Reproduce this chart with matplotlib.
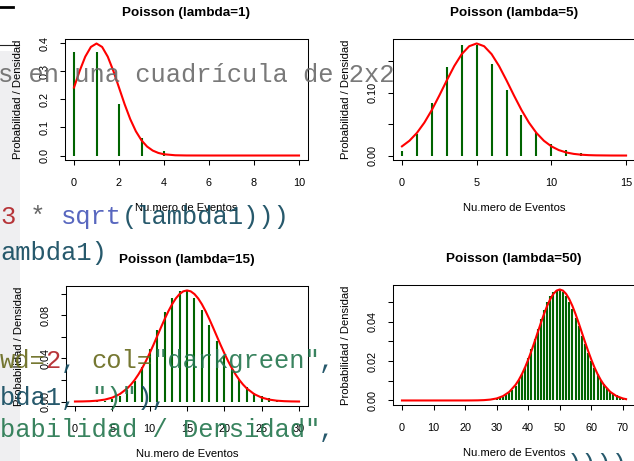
import matplotlib
matplotlib.use("Agg")
import matplotlib.pyplot as plt
from matplotlib.patches import Rectangle
from matplotlib.lines import Line2D

W, H = 634, 461

# lambda = 1
k1 = list(range(0, 11))
p1 = [0.36788, 0.36788, 0.18394, 0.06131, 0.01533, 0.00307, 0.00051, 0.00007, 0.00001, 0.0, 0.0]
x1 = [0, 0.25, 0.5, 0.75, 1, 1.25, 1.5, 1.75, 2, 2.25, 2.5, 2.75, 3, 3.25, 3.5, 3.75, 4, 4.5, 5, 6, 10]
d1 = [0.24197, 0.30114, 0.35207, 0.38667, 0.39894, 0.38667, 0.35207, 0.30114, 0.24197, 0.18265,
      0.12952, 0.08628, 0.05399, 0.03174, 0.01753, 0.00909, 0.00443, 0.00087, 0.00013, 0.0, 0.0]

# lambda = 5
k2 = list(range(0, 16))
p2 = [0.00674, 0.03369, 0.08422, 0.14037, 0.17547, 0.17547, 0.14622, 0.10444, 0.06528, 0.03627,
      0.01813, 0.00824, 0.00343, 0.00132, 0.00047, 0.00016]
x2 = [0, 0.5, 1, 1.5, 2, 2.5, 3, 3.5, 4, 4.5, 5, 5.5, 6, 6.5, 7, 7.5, 8, 8.5, 9, 9.5, 10,
      10.5, 11, 11.5, 12, 12.5, 13, 14, 15]
d2 = [0.01464, 0.02355, 0.03602, 0.05241, 0.07254, 0.09550, 0.11959, 0.14247, 0.16143, 0.17401,
      0.17841, 0.17401, 0.16143, 0.14247, 0.11959, 0.09550, 0.07254, 0.05241, 0.03602, 0.02355,
      0.01464, 0.00866, 0.00487, 0.00261, 0.00133, 0.00064, 0.00030, 0.00005, 0.0]

# lambda = 15
k3 = list(range(0, 31))
p3 = [0.0, 0.000005, 0.000034, 0.000172, 0.000645, 0.001936, 0.004839, 0.010370, 0.019444, 0.032407,
      0.048611, 0.066287, 0.082859, 0.095607, 0.102436, 0.102436, 0.096034, 0.084736, 0.070613, 0.055747,
      0.041810, 0.029865, 0.020362, 0.013280, 0.008300, 0.004980, 0.002873, 0.001596, 0.000855, 0.000442,
      0.000221]
x3 = [0, 1, 2, 3, 4, 5, 6, 7, 7.5, 8, 8.5, 9, 9.5, 10, 10.5, 11, 11.5, 12, 12.5, 13, 13.5, 14, 14.5, 15,
      15.5, 16, 16.5, 17, 17.5, 18, 18.5, 19, 19.5, 20, 20.5, 21, 21.5, 22, 22.5, 23,
      24, 25, 26, 27, 28, 29, 30]
d3 = [0.00006, 0.00015, 0.00037, 0.00085, 0.00183, 0.00367, 0.00692, 0.01220, 0.01580, 0.02011, 0.02519,
      0.03102, 0.03758, 0.04476, 0.05244, 0.06043, 0.06847, 0.07630, 0.08363, 0.09014, 0.09556, 0.09962,
      0.10214, 0.10300, 0.10214, 0.09962, 0.09556, 0.09014, 0.08363, 0.07630, 0.06847, 0.06043, 0.05244,
      0.04476, 0.03758, 0.03102, 0.02519, 0.02011, 0.01580, 0.01220,
      0.00692, 0.00367, 0.00183, 0.00085, 0.00037, 0.00015, 0.00006]

# lambda = 50
k4 = list(range(0, 72))
p4 = [0.0] * 24 + [
    0.000019, 0.000037, 0.000071, 0.000132, 0.000236, 0.000406, 0.000677, 0.001092, 0.001707, 0.002586,
    0.003803, 0.005432, 0.007545, 0.010196, 0.013415, 0.017199, 0.021499, 0.026219, 0.031213, 0.036294,
    0.041243, 0.045826, 0.049811, 0.052991, 0.055199, 0.056325, 0.056325, 0.055221, 0.053097, 0.050092,
    0.046381, 0.042165, 0.037647, 0.033024, 0.028469, 0.024126, 0.020105, 0.016480, 0.013290, 0.010548,
    0.008241, 0.006339, 0.004802, 0.003584, 0.002635, 0.001910, 0.001364, 0.000960]
x4 = [0, 10, 20, 22, 24, 26, 28, 30, 32, 34, 36, 37, 38, 39, 40, 41, 42, 43, 44, 45, 46, 47, 48, 49, 50,
      51, 52, 53, 54, 55, 56, 57, 58, 59, 60, 61, 62, 63, 64, 66, 68, 70, 71]
d4 = [0.0, 0.0, 0.000007, 0.000022, 0.000065, 0.00018, 0.00045, 0.00103, 0.00221, 0.00436, 0.00795,
      0.01041, 0.01337, 0.01682, 0.02076, 0.02510, 0.02975, 0.03456, 0.03936, 0.04394, 0.04808, 0.05156,
      0.05421, 0.05586, 0.05642, 0.05586, 0.05421, 0.05156, 0.04808, 0.04394, 0.03936, 0.03456, 0.02975,
      0.02510, 0.02076, 0.01682, 0.01337, 0.01041, 0.00795, 0.00436, 0.00221, 0.00103, 0.00069]

titles = ["Poisson (lambda=1)", "Poisson (lambda=5)", "Poisson (lambda=15)", "Poisson (lambda=50)"]
xlab = "Nu.mero de Eventos"
ylab = "Probabilidad / Densidad"

SANS = "Liberation Sans"
MONO = "Liberation Mono"

fig = plt.figure(figsize=(W / 100, H / 100), dpi=100)
fig.patch.set_facecolor("white")


def fx(x):
    return x / W


def fy(y):
    return 1 - y / H


# editor gutter and rules behind everything
fig.add_artist(Rectangle((0, fy(461)), fx(20), (461 - 51) / H, transform=fig.transFigure,
                         facecolor="#efeff1", edgecolor="none", zorder=-5))
fig.add_artist(Line2D([0, fx(13)], [fy(7), fy(7)], transform=fig.transFigure, color="black", lw=2, zorder=-4))
fig.add_artist(Line2D([0, fx(19)], [fy(44.5), fy(44.5)], transform=fig.transFigure, color="#222222", lw=0.8, zorder=-4))


def panel(box, k, p, xc, dc, xlim, ylim, xticks, yticks, ylabels, title):
    l, t, r, b = box
    ax = fig.add_axes([fx(l), fy(b), (r - l) / W, (b - t) / H])
    ax.patch.set_alpha(0)
    ax.vlines(k, 0, p, colors="#006400", lw=1.5)
    ax.plot(xc, dc, color="#ff0000", lw=1.5)
    ax.set_xlim(*xlim)
    ax.set_ylim(*ylim)
    ax.set_xticks(xticks)
    ax.set_xticklabels([str(v) for v in xticks], fontsize=7.8, family=SANS)
    ax.set_yticks(yticks)
    ax.set_yticklabels(ylabels, rotation=90, va="center", fontsize=7.8, family=SANS)
    ax.tick_params(axis="x", length=3.6, width=0.75, pad=9.5)
    ax.tick_params(axis="y", length=3.6, width=0.75, pad=7.5)
    for s in ax.spines.values():
        s.set_linewidth(0.75)
    cx = (l + r) / 2
    fig.text(fx(cx), fy(t - 26), title, ha="center", va="center", fontsize=9.7,
             fontweight="bold", family=SANS)
    fig.text(fx(cx), fy(b + 48), xlab, ha="center", va="center", fontsize=8.1, family=SANS)
    fig.text(fx(l - 47), fy((t + b) / 2), ylab, ha="center", va="center", rotation=90,
             fontsize=8.1, family=SANS)
    return ax


panel((65, 39, 308, 160), k1, p1, x1, d1, (-0.4, 10.4), (-0.016, 0.415),
      [0, 2, 4, 6, 8, 10], [0, 0.1, 0.2, 0.3, 0.4], ["0.0", "0.1", "0.2", "0.3", "0.4"], titles[0])
panel((393, 39, 635, 160), k2, p2, x2, d2, (-0.6, 15.6), (-0.0071, 0.1855),
      [0, 5, 10, 15], [0, 0.05, 0.10, 0.15], ["0.00", "", "0.10", ""], titles[1])
panel((66, 286, 308, 406), k3, p3, x3, d3, (-1.2, 31.2), (-0.0041, 0.1071),
      [0, 5, 10, 15, 20, 25, 30], [0, 0.02, 0.04, 0.06, 0.08, 0.10],
      ["0.00", "", "0.04", "", "0.08", ""], titles[2])
panel((393, 285, 635, 405), k4, p4, x4, d4, (-2.84, 73.84), (-0.0023, 0.0587),
      [0, 10, 20, 30, 40, 50, 60, 70], [0, 0.01, 0.02, 0.03, 0.04, 0.05],
      ["0.00", "", "0.02", "", "0.04", ""], titles[3])

# code from the editor, showing through the plots
CW = 15.2
GRAY = "#6a6a6a"
RED = "#b01f24"
BLUE = "#4656b8"
TEAL = "#0f475c"
OLIVE = "#67691c"
GREEN = "#23764d"

code_lines = [
    (-2, 82, [("s en una cuadrícula de 2x2", GRAY)]),
    (0, 224, [("3", RED), (" * ", "#555555"), ("sqrt", BLUE), ("(lambda1)))", TEAL)]),
    (0, 260, [("ambda1)", TEAL)]),
    (0, 368, [("wd=", OLIVE), ("2", RED), (", ", TEAL), ("col=", OLIVE), ('"darkgreen"', GREEN), (",", TEAL)]),
    (0, 405, [("bda1, ", TEAL), ('")"', GREEN), ("),", TEAL)]),
    (0, 437, [('babilidad / Densidad"', GREEN), (",", TEAL)]),
    (567, 472, [("))))", TEAL)]),
]
for x0, base, parts in code_lines:
    n = 0
    for txt, col in parts:
        fig.text(fx(x0 + n * CW), fy(base), txt, ha="left", va="baseline", fontsize=18.4,
                 family=MONO, color=col, alpha=0.9, zorder=5)
        n += len(txt)

fig.savefig("out.png", dpi=100)
